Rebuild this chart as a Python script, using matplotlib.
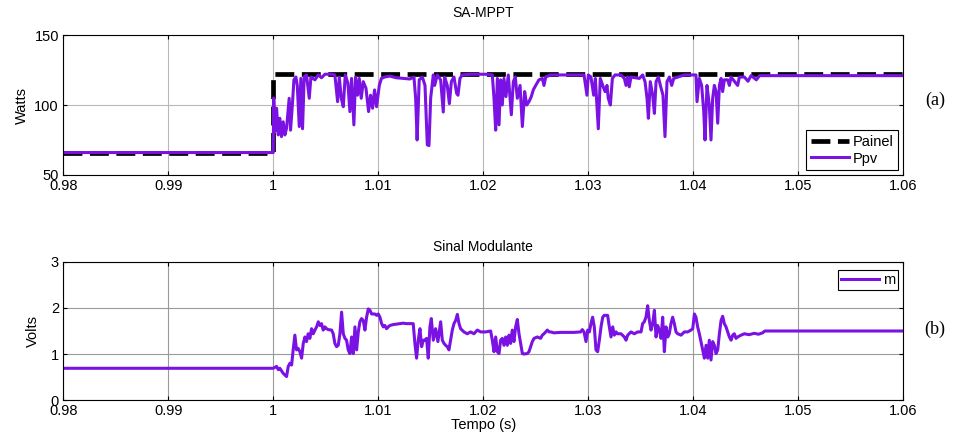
import numpy as np
import matplotlib
matplotlib.use("Agg")
import matplotlib.pyplot as plt

plt.rcParams['font.family'] = ['Liberation Sans', 'DejaVu Sans']
plt.rcParams['font.size'] = 10

# Painel (potência disponível)
painel_ms = [-20, 0, 0, 60]
painel_w = [66, 66, 122.5, 122.5]

# Ppv (tempo em ms depois de t = 1 s, potência em W)
ppv_ms = [-20, 0, 0.05, 0.16, 0.32, 0.48, 0.63, 0.79, 0.95, 1.11, 1.27, 1.52, 1.65, 1.84, 1.97,
          2.16, 2.29, 2.48, 2.63, 2.79, 2.95, 3.17, 3.43, 3.59, 3.97, 4.29, 4.6, 4.92, 5.56,
          5.87, 6.13, 6.29, 6.48, 6.67, 6.86, 7.11, 7.3, 7.46, 7.68, 7.84, 8.03, 8.19, 8.38,
          8.57, 8.83, 9.08, 9.27, 9.46, 9.65, 9.84, 10.1, 10.3, 10.6, 11.1, 11.7, 12.4, 13.0,
          13.4, 13.56, 13.7, 13.9, 14.2, 14.45, 14.67, 14.83, 14.99, 15.24, 15.37, 15.62,
          15.94, 16.19, 16.32, 16.57, 16.77, 16.96, 17.21, 17.46, 17.59, 17.78, 18.0, 18.8,
          20.2, 20.86, 21.02, 21.18, 21.34, 21.5, 21.65, 21.81, 21.97, 22.16, 22.38, 22.67,
          22.86, 23.05, 23.24, 23.5, 23.72, 23.94, 24.13, 24.35, 24.57, 24.76, 24.99, 25.3,
          25.62, 25.78, 25.94, 26.4, 29.59, 29.87, 30.0, 30.25, 30.51, 30.67, 30.95, 31.14,
          31.37, 31.59, 31.78, 31.9, 32.1, 32.29, 32.54, 33.11, 33.43, 33.59, 33.75, 33.9,
          34.06, 34.86, 35.17, 35.4, 35.59, 35.72, 35.9, 36.13, 36.29, 36.45, 36.67, 36.86,
          37.11, 37.3, 37.49, 37.72, 37.94, 38.13, 39.14, 40.25, 40.35, 40.57, 40.79, 40.99,
          41.11, 41.3, 41.52, 41.68, 41.84, 42.0, 42.16, 42.32, 42.48, 42.64, 42.79, 42.95,
          43.27, 43.43, 43.59, 44.22, 44.38, 44.86, 45.2, 45.5, 46.0, 46.3, 60]
ppv_w = [66, 66, 105, 81, 97.7, 78.6, 90.5, 77.4, 88, 78.6, 83.4, 104.8, 82, 102, 118,
         120, 114, 84.6, 119, 83, 120, 121.5, 104.8, 120, 118, 121.5, 119.5, 122, 122,
         121.5, 102.4, 120, 104.8, 98.8, 121.5, 115.5, 95.3, 119, 85.8, 120, 107, 119, 104.8,
         116.7, 112, 95.3, 107, 97.7, 110.8, 98.8, 114, 119, 120, 120.7, 119.5, 119, 118.6,
         120, 104.8, 75, 118, 120, 114, 71.5, 71, 105, 121.5, 114, 121.5,
         118, 95, 120, 114, 101, 116.7, 120, 108.4, 107, 119, 121.5, 122,
         122, 121.5, 104.8, 82, 119, 85.8, 118, 100, 119, 106, 121.5, 93,
         116.7, 120, 104.8, 114, 84.6, 109.6, 100, 102.4, 106, 110.8, 114, 118,
         119, 114, 120, 121.5, 121.5, 107, 121.5, 120, 107, 119, 83, 119,
         114, 109.6, 114, 104.8, 100, 119, 121.5, 121.5, 119, 114, 120, 113,
         120, 119, 121.5, 116.7, 104.8, 90.5, 116.7, 107, 94, 116.7, 120, 114,
         107, 77.4, 116.7, 120, 114, 119, 121.5, 121.5, 102.4, 119, 114, 95.3,
         75, 114, 100, 75, 104.8, 114, 109.6, 87, 114, 119, 109.6, 118,
         118, 114, 120, 114, 120, 120, 117, 121, 118, 121, 121]

# Sinal modulante m (tempo em ms depois de t = 1 s, valor em V)
m_ms = [-20, 0, 0.32, 0.48, 0.63, 0.95, 1.27, 1.43, 1.59, 1.75, 1.90, 2.06, 2.22, 2.38, 2.54,
        2.70, 2.86, 3.02, 3.17, 3.33, 3.49, 3.65, 3.81, 3.97, 4.13, 4.29, 4.44, 4.60, 4.76,
        4.92, 5.08, 5.24, 5.56, 5.71, 5.87, 6.03, 6.19, 6.35, 6.51, 6.67, 6.83, 6.98, 7.14,
        7.30, 7.46, 7.62, 7.78, 7.94, 8.10, 8.25, 8.41, 8.57, 8.73, 8.89, 9.05, 9.21, 9.37,
        9.68, 9.84, 10.0, 10.16, 10.32, 10.48, 10.63, 10.79, 10.95, 11.11, 11.43, 12.06,
        12.38, 12.70, 13.33, 13.49, 13.65, 13.81, 13.97, 14.13, 14.29, 14.44, 14.60,
        14.76, 14.92, 15.05, 15.24, 15.46, 15.68, 15.94, 16.10, 16.26, 16.41, 16.57, 16.73,
        16.89, 17.05, 17.21, 17.37, 17.53, 17.69, 17.84, 18.16, 18.48, 18.79, 19.11, 19.43,
        19.75, 20.22, 20.70, 20.86, 21.02, 21.18, 21.34, 21.50, 21.65, 21.81, 21.97, 22.13,
        22.29, 22.45, 22.60, 22.76, 22.92, 23.08, 23.24, 23.40, 23.56, 23.72, 23.87, 24.19,
        24.35, 24.51, 24.67, 24.83, 25.15, 25.46, 25.62, 25.78, 26.10, 26.26, 26.42, 26.73,
        27.37, 28.0, 28.64, 29.27, 29.43, 29.59,
        29.78, 29.94, 30.10, 30.25, 30.41, 30.57, 30.73, 30.89, 31.05, 31.21, 31.37, 31.52,
        31.84, 32.0, 32.16, 32.32, 32.48, 32.64, 32.79, 33.11, 33.43, 33.59, 33.75, 34.06,
        34.38, 34.70, 35.02, 35.17, 35.33, 35.49, 35.65, 35.81, 35.97, 36.13, 36.29, 36.45,
        36.60, 36.76, 36.92, 37.08, 37.24, 37.40, 37.56, 37.71, 37.87, 38.03, 38.19, 38.35,
        38.51, 38.83, 39.14, 39.46, 39.78, 39.94, 40.10, 40.25, 40.41, 40.57, 40.73, 40.89,
        41.05, 41.21, 41.37, 41.52, 41.68, 41.84, 42.0, 42.16, 42.32, 42.48, 42.64, 42.79,
        42.95, 43.11, 43.27, 43.43, 43.59, 43.75, 43.90, 44.06, 44.22, 44.54, 44.86,
        45.3, 45.8, 46.2, 46.6, 46.8, 60]
m_v = [0.69, 0.69, 0.73, 0.66, 0.69, 0.58, 0.51, 0.73, 0.80, 0.76, 1.09, 1.41, 1.09, 1.12, 1.05,
       0.91, 1.23, 1.37, 1.27, 1.44, 1.34, 1.55, 1.44, 1.52, 1.59, 1.70, 1.62, 1.66, 1.52,
       1.59, 1.55, 1.53, 1.52, 1.44, 1.23, 1.16, 1.19, 1.44, 1.91, 1.44, 1.34, 1.30, 1.09,
       1.01, 1.37, 1.01, 1.59, 1.09, 1.48, 1.70, 1.77, 1.73, 1.52, 1.80, 1.98, 1.95, 1.87,
       1.87, 1.84, 1.87, 1.80, 1.66, 1.59, 1.62, 1.55, 1.59, 1.62, 1.64, 1.66,
       1.67, 1.66, 1.66, 1.23, 0.91, 1.30, 1.55, 1.16, 1.30, 1.30, 1.34,
       0.91, 1.59, 1.77, 1.30, 1.55, 1.27, 1.70, 1.30, 1.23, 1.19, 1.16, 1.09,
       1.30, 1.52, 1.66, 1.73, 1.86, 1.66, 1.55, 1.48, 1.44, 1.48, 1.44, 1.52,
       1.48, 1.48, 1.50, 1.30, 1.05, 1.37, 1.05, 1.01, 1.30, 1.34, 1.19, 1.37,
       1.19, 1.41, 1.23, 1.52, 1.27, 1.59, 1.75, 1.44, 1.23, 1.01, 1.00, 1.01,
       1.05, 1.16, 1.27, 1.34, 1.37, 1.34, 1.41, 1.44, 1.52, 1.48, 1.48, 1.46,
       1.47, 1.47, 1.47, 1.48, 1.53, 1.48,
       1.27, 1.52, 1.48, 1.66, 1.80, 1.59, 1.09, 1.05, 1.30, 1.59, 1.80, 1.84,
       1.84, 1.59, 1.37, 1.59, 1.41, 1.48, 1.44, 1.44, 1.37, 1.30, 1.41, 1.48,
       1.44, 1.48, 1.48, 1.66, 1.70, 1.80, 2.05, 1.73, 1.52, 1.66, 1.95, 1.37,
       1.62, 1.52, 1.34, 1.80, 1.05, 1.59, 1.37, 1.44, 1.66, 1.80, 1.66, 1.48,
       1.44, 1.41, 1.48, 1.48, 1.52, 1.55, 1.87, 1.80, 1.59, 1.44, 1.27, 1.09,
       0.91, 1.19, 0.91, 1.30, 0.87, 1.27, 1.19, 1.01, 1.09, 1.44, 1.73, 1.82,
       1.66, 1.59, 1.48, 1.37, 1.30, 1.41, 1.44, 1.34, 1.37, 1.41, 1.44,
       1.42, 1.45, 1.43, 1.46, 1.5, 1.5]

x_ticks = [0.98, 0.99, 1.0, 1.01, 1.02, 1.03, 1.04, 1.05, 1.06]
x_labels = ['0.98', '0.99', '1', '1.01', '1.02', '1.03', '1.04', '1.05', '1.06']

roxo = '#7a12e4'

def t_of(ms):
    return 1.0 + np.array(ms) * 1e-3

def estilo(ax, cor_grade):
    ax.set_xlim(0.98, 1.06)
    ax.set_xticks(x_ticks)
    ax.set_xticklabels(x_labels)
    ax.grid(True, color=cor_grade, linewidth=0.8)
    ax.set_axisbelow(True)
    ax.tick_params(direction='in', top=True, right=True, length=3, pad=3, labelsize=10.5)
    for s in ax.spines.values():
        s.set_linewidth(0.8)

fig = plt.figure(figsize=(9.57, 4.44), dpi=100)
ax1 = fig.add_axes([0.066, 0.606, 0.878, 0.315])
ax2 = fig.add_axes([0.066, 0.099, 0.878, 0.311])

# (a) SA-MPPT
ax1.plot(t_of(painel_ms), painel_w, color='black', linewidth=3.4, dashes=(4, 1.6), label='Painel')
ax1.plot(t_of(ppv_ms), ppv_w, color=roxo, linewidth=2.2, label='Ppv')
estilo(ax1, '#b8b8b8')
ax1.set_ylim(50, 150)
ax1.set_yticks([50, 100, 150])
ax1.set_ylabel('Watts', fontsize=10.5, labelpad=4)
ax1.set_title('SA-MPPT', fontsize=10, pad=13)
leg1 = ax1.legend(loc='lower right', bbox_to_anchor=(0.994, 0.036), borderaxespad=0,
                  fancybox=False, framealpha=1, edgecolor='black', fontsize=10.5,
                  handlelength=2.6, handletextpad=0.3, borderpad=0.3, labelspacing=0.2)
leg1.get_frame().set_linewidth(0.8)

# (b) Sinal modulante
ax2.plot(t_of(m_ms), m_v, color=roxo, linewidth=2.2, label='m')
estilo(ax2, '#9a9a9a')
ax2.set_ylim(0, 3)
ax2.set_yticks([0, 1, 2, 3])
ax2.set_ylabel('Volts', fontsize=10.5, labelpad=8)
ax2.set_xlabel('Tempo (s)', fontsize=10.5, labelpad=0)
ax2.set_title('Sinal Modulante', fontsize=10, pad=8)
leg2 = ax2.legend(loc='upper right', bbox_to_anchor=(0.994, 0.942), borderaxespad=0,
                  fancybox=False, framealpha=1, edgecolor='black', fontsize=10.5,
                  handlelength=2.6, handletextpad=0.3, borderpad=0.2)
leg2.get_frame().set_linewidth(0.8)

fig.text(0.988, 0.775, '(a)', fontsize=13, family='Liberation Serif', ha='right', va='center')
fig.text(0.988, 0.258, '(b)', fontsize=13, family='Liberation Serif', ha='right', va='center')

fig.savefig('out.png', dpi=100)
